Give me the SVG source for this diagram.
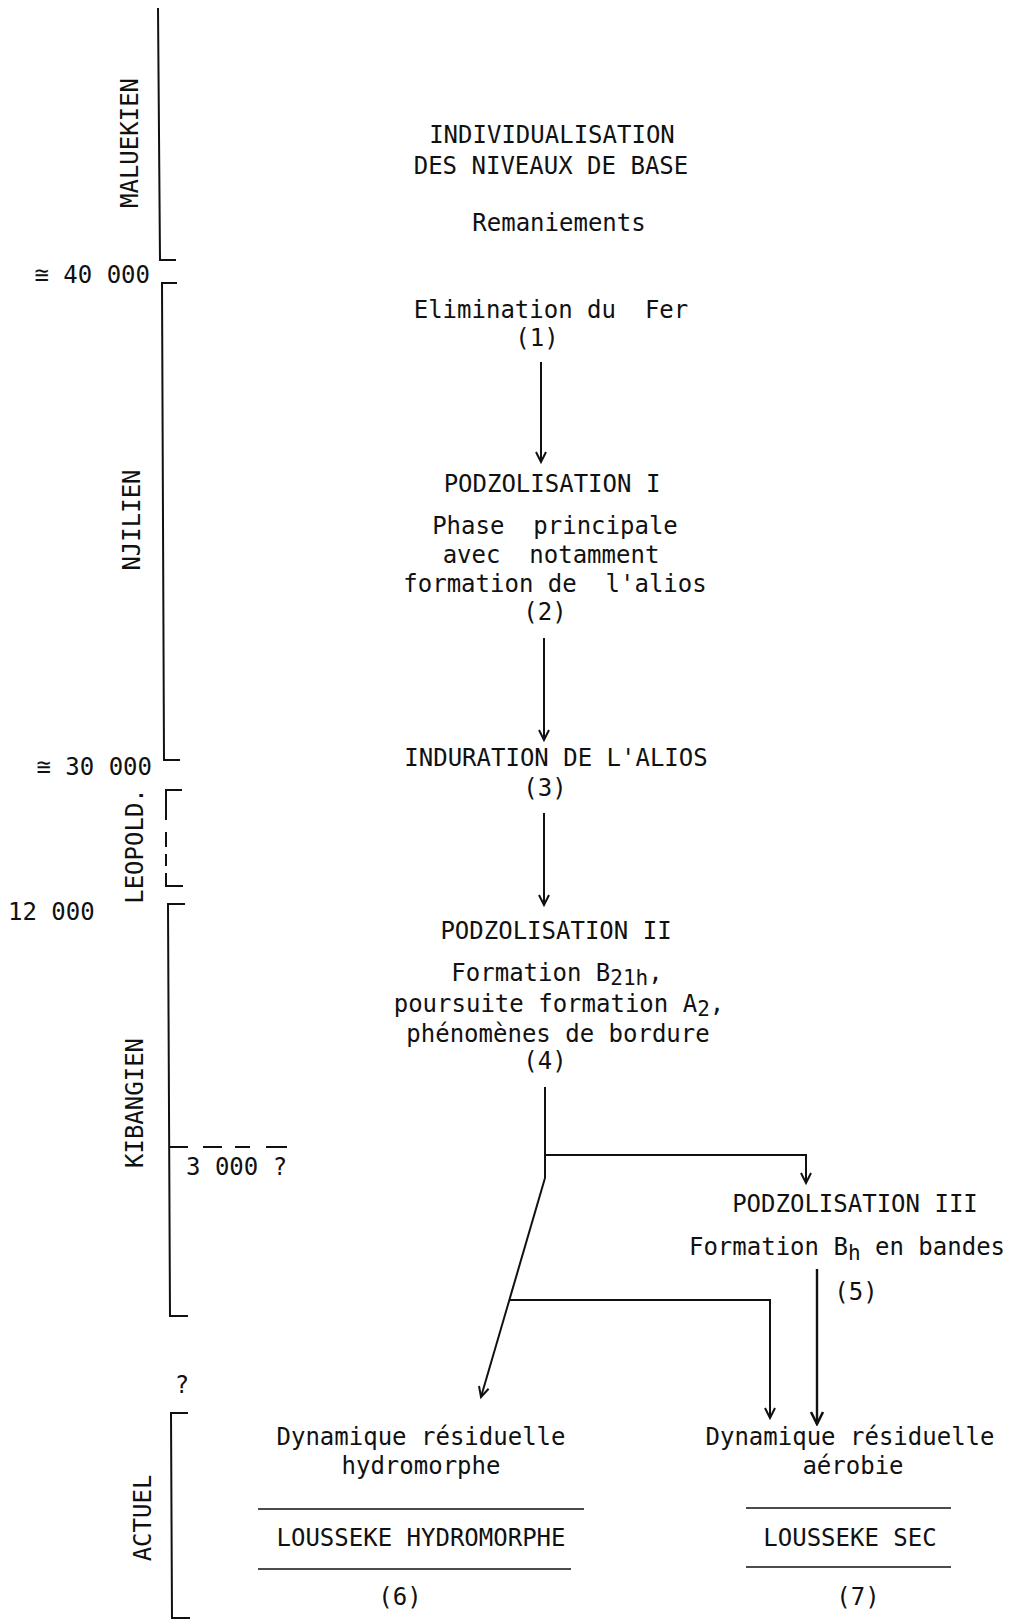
<svg xmlns="http://www.w3.org/2000/svg" width="1015" height="1621" viewBox="0 0 1015 1621">
<defs>
<style>
.t{font-family:"DejaVu Sans Mono","Liberation Mono",monospace;font-size:24px;fill:#111}
.m{text-anchor:middle}
.e{text-anchor:end}
.sub{font-size:21px}
.ln{stroke:#111;stroke-width:2;fill:none}
.rule{stroke:#111;stroke-width:1.6;fill:none}
</style>
<marker id="arr" markerUnits="userSpaceOnUse" markerWidth="14" markerHeight="14" viewBox="0 0 14 14" refX="12" refY="7" orient="auto">
<path d="M2,2 L12,7 L2,12" fill="none" stroke="#111" stroke-width="2"/>
</marker>
<marker id="arrB" markerUnits="userSpaceOnUse" markerWidth="16" markerHeight="16" viewBox="0 0 16 16" refX="14" refY="8" orient="auto">
<path d="M2,2 L14,8 L2,14" fill="none" stroke="#111" stroke-width="2.6"/>
</marker>
</defs>
<rect width="1015" height="1621" fill="#fff"/>

<g id="timeline">
  <g id="maluekien">
    <path class="ln" d="M158,8 L160,260 L176,260"/>
    <text class="t m" transform="translate(138,143) rotate(-90)">MALUEKIEN</text>
  </g>
  <text id="date-40000" class="t e" x="150" y="283">≅ 40 000</text>
  <g id="njilien">
    <path class="ln" d="M177,283 L162,283 L164,760 L180,760"/>
    <text class="t m" transform="translate(140,520) rotate(-90)">NJILIEN</text>
  </g>
  <text id="date-30000" class="t e" x="152" y="775">≅ 30 000</text>
  <g id="leopold">
    <path class="ln" d="M182,790 L166,790 L166,820 M166,832 L166,847 M166,854 L166,866 M166,873 L166,886 L183,886"/>
    <text class="t m" transform="translate(143,846) rotate(-90)">LEOPOLD.</text>
  </g>
  <text id="date-12000" class="t" x="8" y="920">12 000</text>
  <g id="kibangien">
    <path class="ln" d="M185,904 L168,904 L170,1316 L188,1316"/>
    <text class="t m" transform="translate(143,1103) rotate(-90)">KIBANGIEN</text>
  </g>
  <g id="date-3000">
    <path class="ln" d="M169,1147 L188,1147 M203,1147 L222,1147 M235,1147 L250,1147 M266,1147 L287,1147"/>
    <text class="t" x="186" y="1175">3 000 ?</text>
  </g>
  <text id="date-unknown" class="t m" x="182" y="1393">?</text>
  <g id="actuel">
    <path class="ln" d="M188,1413 L171,1413 L172,1618 L190,1618"/>
    <text class="t m" transform="translate(151,1518) rotate(-90)">ACTUEL</text>
  </g>
</g>

<g id="connectors">
  <path class="ln" d="M541,362 L541,462" marker-end="url(#arr)"/>
  <path class="ln" d="M544,638 L544,740" marker-end="url(#arr)"/>
  <path class="ln" d="M544,813 L544,905" marker-end="url(#arr)"/>
  <path class="ln" d="M545,1087 L545,1178"/>
  <path class="ln" d="M545,1155 L806,1155 L806,1183" marker-end="url(#arr)"/>
  <path class="ln" d="M545,1178 L481,1397" marker-end="url(#arr)"/>
  <path class="ln" d="M509,1300 L770,1300 L770,1418" marker-end="url(#arr)"/>
  <path class="ln" style="stroke-width:2.4" d="M817,1269 L817,1424" marker-end="url(#arrB)"/>
</g>

<g id="node-individualisation">
  <text class="t m" x="552" y="143">INDIVIDUALISATION</text>
  <text class="t m" x="551" y="174">DES NIVEAUX DE BASE</text>
  <text class="t m" x="559" y="231">Remaniements</text>
</g>

<g id="node-1">
  <text class="t m" x="551" y="318" xml:space="preserve" style="white-space:pre">Elimination du  Fer</text>
  <text class="t m" x="537" y="346">(1)</text>
</g>

<g id="node-2">
  <text class="t m" x="552" y="492">PODZOLISATION I</text>
  <text class="t m" x="555" y="534" xml:space="preserve" style="white-space:pre">Phase  principale</text>
  <text class="t m" x="551" y="563" xml:space="preserve" style="white-space:pre">avec  notamment</text>
  <text class="t m" x="555" y="592" xml:space="preserve" style="white-space:pre">formation de  l'alios</text>
  <text class="t m" x="545" y="620">(2)</text>
</g>

<g id="node-3">
  <text class="t m" x="556" y="766">INDURATION DE L'ALIOS</text>
  <text class="t m" x="545" y="796">(3)</text>
</g>

<g id="node-4">
  <text class="t m" x="556" y="939">PODZOLISATION II</text>
  <text class="t m" x="557" y="981">Formation B<tspan class="sub" dy="4">21h</tspan><tspan dy="-4">,</tspan></text>
  <text class="t m" x="559" y="1012">poursuite formation A<tspan class="sub" dy="4">2</tspan><tspan dy="-4">,</tspan></text>
  <text class="t m" x="558" y="1042">phénomènes de bordure</text>
  <text class="t m" x="545" y="1069">(4)</text>
</g>

<g id="node-5">
  <text class="t m" x="855" y="1212">PODZOLISATION III</text>
  <text class="t m" x="847" y="1255">Formation B<tspan class="sub" dy="5">h</tspan><tspan dy="-5"> en bandes</tspan></text>
  <text class="t m" x="856" y="1300">(5)</text>
</g>

<g id="node-6">
  <text class="t m" x="421" y="1445">Dynamique résiduelle</text>
  <text class="t m" x="421" y="1474">hydromorphe</text>
  <path class="rule" d="M258,1509 L584,1509"/>
  <text class="t m" x="421" y="1546">LOUSSEKE HYDROMORPHE</text>
  <path class="rule" d="M258,1569 L571,1569"/>
  <text class="t m" x="400" y="1605">(6)</text>
</g>

<g id="node-7">
  <text class="t m" x="850" y="1445">Dynamique résiduelle</text>
  <text class="t m" x="853" y="1474">aérobie</text>
  <path class="rule" d="M746,1508 L951,1508"/>
  <text class="t m" x="850" y="1546">LOUSSEKE SEC</text>
  <path class="rule" d="M746,1567 L951,1567"/>
  <text class="t m" x="858" y="1605">(7)</text>
</g>
</svg>
